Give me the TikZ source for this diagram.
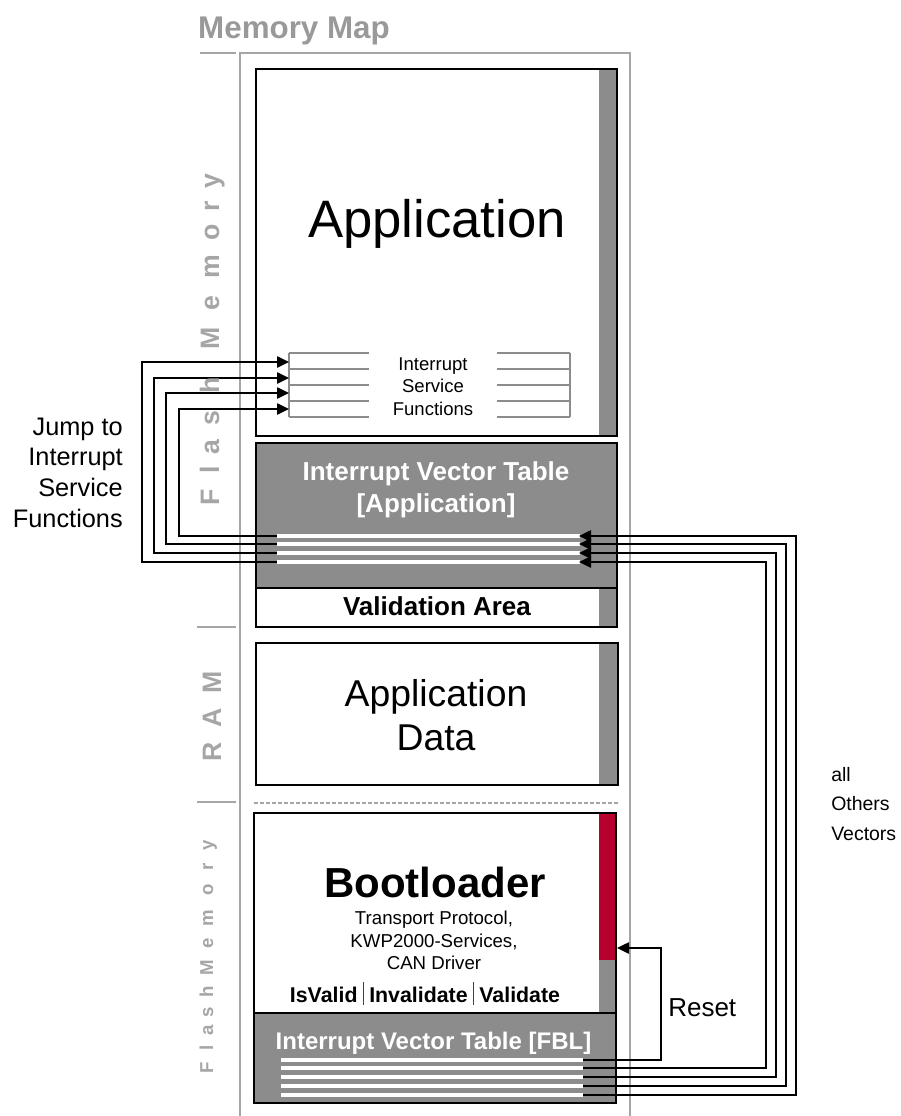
\documentclass[tikz,border=0pt]{standalone}
\usepackage{fontspec}
\setmainfont{Liberation Sans}
\usetikzlibrary{arrows.meta}
\definecolor{boxgray}{HTML}{8C8C8C}
\definecolor{framegray}{HTML}{A6A6A6}
\definecolor{titlegray}{HTML}{999999}
\definecolor{fblred}{HTML}{B8002E}
\newcommand\barsep{\hspace{4pt}{\color{black!75}\rule[-2pt]{0.8pt}{17pt}}\hspace{4pt}}
\newcommand\fs[1]{\fontsize{#1}{#1}\selectfont}
\begin{document}
\begin{tikzpicture}[x=0.75pt,y=-0.75pt,line join=miter,
  frame/.style={draw=framegray,line width=1.2pt},
  blk/.style={draw=black,line width=1.5pt},
  conn/.style={draw=black,line width=1.1pt},
  arr/.style={conn,-{Triangle[length=9pt,width=8.5pt]}},
  wbar/.style={draw=white,line width=3pt},
  isr/.style={draw=boxgray,line width=1.1pt},
  lbl/.style={inner sep=0pt,anchor=base},
  vlet/.style={inner sep=0pt,anchor=base,rotate=90,text=framegray,font=\bfseries},
  wtxt/.style={lbl,text=white,font=\bfseries\fs{19.5}}]
\useasboundingbox (0,0) rectangle (900,1116);

% outer frame and ticks
\draw[frame] (240,1116) -- (240,53) -- (630,53) -- (630,1116);
\draw[frame] (200,53) -- (236,53);
\draw[frame] (197,627) -- (236,627);
\draw[frame] (197,802) -- (236,802);
\draw[draw=framegray,line width=1.5pt,dash pattern=on 3pt off 1.5pt] (254,803) -- (620,803);

% application
\fill[boxgray] (599,69) rectangle (617,436);
\draw[blk] (256,69) rectangle (617,436);
% IVT application
\fill[boxgray] (256,443) rectangle (617,588);
\fill[boxgray] (599,588) rectangle (617,627);
\draw[blk] (256,443) rectangle (617,627);
\draw[blk] (256,588) -- (617,588);
% application data
\fill[boxgray] (599,643) rectangle (618,785);
\draw[blk] (256,643) rectangle (618,785);
% bootloader
\fill[fblred] (599,813) rectangle (616,960);
\fill[boxgray] (599,960) rectangle (616,1013);
\fill[boxgray] (254,1013) rectangle (616,1103);
\draw[blk] (254,813) rectangle (616,1103);
\draw[blk] (254,1013) -- (616,1013);

% ISR lines
\foreach \y in {353,369,385,401,417} {
  \draw[isr] (289,\y) -- (369,\y);
  \draw[isr] (497,\y) -- (570,\y);
}
\draw[isr] (289,353) -- (289,417);
\draw[isr] (570,353) -- (570,417);

% white vector bars
\foreach \y in {536,544,553,562} \draw[wbar] (277,\y) -- (580,\y);
\foreach \y in {1060,1068,1077,1086,1095} \draw[wbar] (281,\y) -- (583,\y);

% named coordinates
\coordinate (la1) at (277,536); \coordinate (la2) at (277,544);
\coordinate (la3) at (277,553); \coordinate (la4) at (277,562);
\coordinate (ra1) at (579,536); \coordinate (ra2) at (579,544);
\coordinate (ra3) at (579,553); \coordinate (ra4) at (579,562);
\coordinate (isr1) at (289,409); \coordinate (isr2) at (289,393);
\coordinate (isr3) at (289,378); \coordinate (isr4) at (289,362);
\coordinate (fb0) at (583,1060); \coordinate (fb1) at (583,1068);
\coordinate (fb2) at (583,1077); \coordinate (fb3) at (583,1086);
\coordinate (fb4) at (583,1095);
\coordinate (blreset) at (617,948);
\coordinate (lx1) at (179,0); \coordinate (lx2) at (166,0);
\coordinate (lx3) at (154,0); \coordinate (lx4) at (142,0);
\coordinate (rx0) at (661,0); \coordinate (rx1) at (766,0);
\coordinate (rx2) at (776,0); \coordinate (rx3) at (786,0);
\coordinate (rx4) at (796,0);

% jumps to ISR
\foreach \i in {1,2,3,4}
  \draw[arr] (la\i) -- (la\i -| lx\i) |- (isr\i);
% other vectors
\draw[arr] (fb1) -- (fb1 -| rx1) |- (ra4);
\draw[arr] (fb2) -- (fb2 -| rx2) |- (ra3);
\draw[arr] (fb3) -- (fb3 -| rx3) |- (ra2);
\draw[arr] (fb4) -- (fb4 -| rx4) |- (ra1);
% reset
\draw[arr] (fb0) -- (fb0 -| rx0) |- (blreset);

% texts (multi-line nodes: base = last line)
\node[lbl,text=titlegray,font=\bfseries\fs{23.5}] (title) at (294,39) {Memory Map};
\node[lbl,font=\fs{39.5}] (app) at (437,238) {Application};
\node[lbl,font=\fs{13.9},align=center] (isf) at (433,415) {Interrupt\\[2.9pt]Service\\[2.9pt]Functions};
\node[wtxt,align=center] (ivta) at (436,512) {Interrupt Vector Table\\[4.5pt][Application]};
\node[lbl,font=\bfseries\fs{19.5}] (valid) at (437,615) {Validation Area};
\node[lbl,font=\fs{28},align=center] (appdata) at (436,750) {Application\\[4.3pt]Data};
\node[lbl,font=\bfseries\fs{31.5}] (boot) at (435,897) {Bootloader};
\node[lbl,font=\fs{14},align=center] (bootsub) at (434,969) {Transport Protocol,\\[3pt]KWP2000-Services,\\[2.5pt]CAN Driver};
\node[lbl,font=\bfseries\fs{16}] (isvalid) at (425,1002) {IsValid\barsep Invalidate\barsep Validate};
\node[wtxt,font=\bfseries\fs{18}] (ivtf) at (433.5,1049) {Interrupt Vector Table [FBL]};
\node[lbl,font=\fs{19.5},anchor=base west] (reset) at (668,1016) {Reset};
\node[lbl,font=\fs{19},align=right,anchor=base east] (jump) at (123,527) {Jump to\\[4pt]Interrupt\\[4pt]Service\\[4pt]Functions};
\node[lbl,font=\fs{14.6},align=left,anchor=base west] (others) at (831,840) {all\\[7.2pt]Others\\[7.2pt]Vectors};

% vertical region labels
\foreach \c/\y in {F/497,l/470,a/447,s/418,h/385,M/338,e/303,m/267,o/232,r/206,y/181}
  \node[vlet,font=\bfseries\fs{20}] at (219,\y) {\c};
\foreach \c/\y in {R/752,A/718,M/682}
  \node[vlet,font=\bfseries\fs{20}] at (221,\y) {\c};
\foreach \c/\y in {F/1068,l/1048,a/1030,s/1012,h/992,M/968,e/943,m/918,o/890,r/867,y/845}
  \node[vlet,font=\bfseries\fs{14}] at (213,\y) {\c};
\end{tikzpicture}
\end{document}
